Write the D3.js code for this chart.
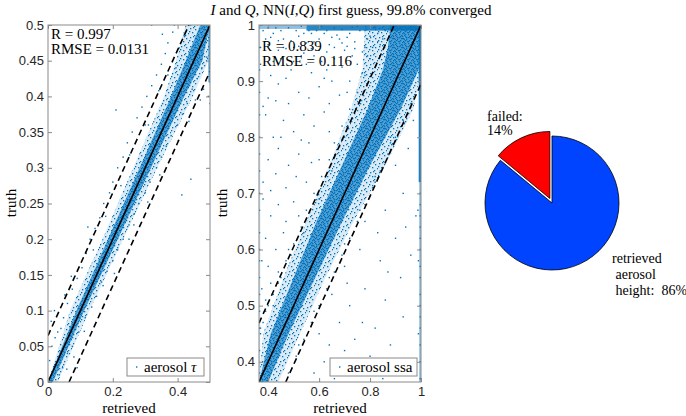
<!DOCTYPE html>
<html><head><meta charset="utf-8">
<script src="https://cdn.jsdelivr.net/npm/d3@7/dist/d3.min.js"></script>
<style>body{margin:0;background:#fff}svg{display:block}</style>
</head><body>
<script>
// ---------- DATA ----------
const tauTicksY = [0,0.05,0.1,0.15,0.2,0.25,0.3,0.35,0.4,0.45,0.5];
const tauTicksX = [0,0.2,0.4];
const ssaTicksY = [0.4,0.5,0.6,0.7,0.8,0.9,1];
const ssaTicksX = [0.4,0.6,0.8,1];
const tauDomain = [0,0.5];
const ssaDomain = [0.364,1];
const tauStats = ["R = 0.997","RMSE = 0.0131"];
const ssaStats = ["R = 0.839","RMSE = 0.116"];
const tauBand = 0.065, ssaBand = 0.105;   // dashed envelope offsets
// density envelopes of the point clouds: [truth, retrievedLow, retrievedHigh]
const tauCore = [[0,0,0.015],[0.1,0.088,0.112],[0.2,0.185,0.215],[0.3,0.283,0.318],[0.4,0.38,0.42],[0.45,0.425,0.476],[0.5,0.47,0.5]];
const tauMid  = [[0,0,0.03],[0.1,0.068,0.128],[0.2,0.168,0.232],[0.3,0.263,0.337],[0.4,0.358,0.447],[0.45,0.395,0.495],[0.5,0.425,0.5]];
const ssaCore = [[0.364,0.364,0.40],[0.45,0.41,0.48],[0.55,0.50,0.585],[0.65,0.59,0.69],[0.75,0.69,0.80],[0.85,0.79,0.92],[0.92,0.85,0.99],[0.96,0.87,1],[1,0.88,1]];
const ssaMid  = [[0.364,0.364,0.44],[0.45,0.38,0.525],[0.55,0.46,0.625],[0.65,0.55,0.735],[0.75,0.64,0.86],[0.85,0.725,0.97],[0.92,0.77,1],[1,0.78,1]];
// saturated edge strips: [r0, r1, t0, t1, density]
const tauEdges = [[0.495,0.5,0.42,0.5,0.7]];
const ssaEdges = [[0.991,1,0.72,1,0.9],[0.993,1,0.364,0.72,0.45],[0.55,1,0.99,1,0.85],[0.364,0.55,0.993,1,0.45],[0.364,0.369,0.364,1,0.18]];
// individual points [retrieved, truth]
const tauPts = [[0.035,0.01],[0.005,0.03],[0.045,0.02],[0.012,0.05],[0.06,0.04],[0.03,0.07],[0.075,0.05],[0.048,0.09],[0.095,0.07],[0.06,0.11],[0.115,0.09],[0.075,0.13],[0.135,0.105],[0.09,0.145],[0.15,0.12],[0.105,0.16],[0.165,0.14],[0.118,0.18],[0.182,0.155],[0.13,0.2],[0.2,0.17],[0.145,0.215],[0.215,0.185],[0.16,0.23],[0.232,0.2],[0.172,0.25],[0.25,0.22],[0.19,0.265],[0.265,0.235],[0.2,0.28],[0.28,0.25],[0.215,0.3],[0.3,0.265],[0.232,0.315],[0.315,0.28],[0.245,0.335],[0.335,0.3],[0.26,0.35],[0.35,0.315],[0.275,0.37],[0.365,0.33],[0.29,0.385],[0.38,0.345],[0.305,0.4],[0.4,0.36],[0.32,0.415],[0.415,0.375],[0.335,0.43],[0.43,0.39],[0.35,0.445],[0.445,0.41],[0.362,0.46],[0.46,0.425],[0.37,0.475],[0.475,0.44],[0.385,0.49],[0.49,0.455],[0.39,0.5],[0.5,0.46],[0.5,0.42],[0.5,0.39],[0.5,0.44],[0.21,0.381],[0.353,0.487],[0.413,0.262],[0.441,0.284],[0.123,0.217],[0.072,0.148],[0.32,0.5],[0.01,0.085],[0.02,0.1],[0.09,0.02],[0.25,0.2],[0.30,0.36],[0.47,0.395],[0.495,0.40],[0.058,0.018],[0.022,0.062],[0.112,0.071],[0.052,0.122],[0.205,0.152],[0.178,0.232],[0.308,0.252],[0.252,0.318],[0.402,0.338],[0.342,0.408],[0.455,0.395],[0.405,0.468],[0.04,0.075],[0.08,0.035],[0.14,0.185],[0.17,0.135],[0.225,0.275],[0.265,0.22],[0.31,0.36],[0.345,0.29],[0.395,0.44],[0.435,0.365],[0.37,0.43],[0.42,0.485],[0.44,0.5],[0.48,0.41]];
const ssaPts = [[0.38,0.99],[0.40,0.965],[0.42,0.985],[0.44,0.955],[0.46,0.975],[0.48,0.995],[0.50,0.96],[0.52,0.98],[0.54,0.95],[0.56,0.99],[0.58,0.97],[0.60,0.955],[0.62,0.985],[0.64,0.965],[0.66,0.995],[0.68,0.975],[0.70,0.955],[0.72,0.985],[0.74,0.97],[0.76,0.99],[0.78,0.96],[0.80,0.98],[0.82,0.995],[0.84,0.965],[0.39,0.975],[0.43,0.995],[0.47,0.958],[0.51,0.99],[0.55,0.968],[0.59,0.99],[0.63,0.952],[0.67,0.982],[0.71,0.962],[0.75,0.998],[0.79,0.975],[0.83,0.985],[0.45,0.99],[0.53,0.998],[0.61,0.998],[0.69,0.992],[0.77,0.952],[0.57,0.958],[0.65,0.978],[0.73,0.996],
[0.41,0.978],[0.49,0.972],[0.57,0.985],[0.66,0.96],[0.74,0.958],[0.81,0.96],[0.86,0.99],[0.37,0.96],[0.44,0.972],[0.52,0.962],[0.6,0.975],[0.69,0.968],[0.78,0.99],[0.85,0.975],[0.88,0.998],[0.63,0.99],[0.54,0.985],[0.46,0.96],[0.4,0.995],[0.71,0.978],
[0.37,0.93],[0.41,0.91],[0.45,0.94],[0.49,0.92],[0.53,0.945],[0.57,0.915],[0.61,0.935],[0.65,0.9],[0.69,0.925],[0.73,0.945],[0.40,0.87],[0.44,0.895],[0.48,0.86],[0.52,0.88],[0.56,0.87],[0.60,0.89],[0.64,0.86],[0.68,0.875],[0.72,0.9],[0.47,0.905],[0.55,0.93],[0.63,0.92],[0.71,0.88],[0.38,0.855],[0.43,0.865],[0.58,0.945],[0.66,0.94],[0.75,0.93],[0.77,0.915],[0.79,0.945],[0.62,0.905],[0.5,0.935],[0.42,0.935],
[0.39,0.84],[0.42,0.8],[0.46,0.83],[0.5,0.81],[0.54,0.84],[0.58,0.82],[0.62,0.845],[0.4,0.76],[0.44,0.78],[0.48,0.75],[0.52,0.77],[0.56,0.79],[0.6,0.76],[0.38,0.72],[0.43,0.735],[0.47,0.71],[0.51,0.73],[0.55,0.72],[0.45,0.8],[0.57,0.755],[0.41,0.705],[0.64,0.81],[0.53,0.795],
[0.38,0.69],[0.41,0.66],[0.44,0.68],[0.47,0.65],[0.5,0.685],[0.39,0.62],[0.43,0.6],[0.46,0.63],[0.4,0.57],[0.44,0.56],[0.48,0.6],[0.52,0.66],[0.375,0.58],
[0.375,0.53],[0.39,0.51],[0.41,0.54],[0.38,0.47],[0.37,0.45],[0.42,0.5],
[0.366,0.38],[0.366,0.42],[0.366,0.46],[0.366,0.49],[0.366,0.52],[0.366,0.55],[0.366,0.58],[0.366,0.6],[0.366,0.63],[0.366,0.67],[0.366,0.7],[0.366,0.74],[0.366,0.77],[0.366,0.8],[0.366,0.84],[0.366,0.88],[0.366,0.92],[0.366,0.96],
[0.58,0.38],[0.62,0.4],[0.66,0.37],[0.7,0.42],[0.75,0.39],[0.8,0.41],[0.85,0.37],[0.9,0.4],[0.95,0.38],[0.6,0.45],[0.68,0.47],[0.74,0.44],[0.82,0.46],[0.88,0.43],[0.93,0.48],[0.65,0.52],[0.72,0.5],[0.78,0.53],[0.86,0.51],[0.92,0.55],[0.7,0.57],[0.76,0.6],[0.84,0.58],[0.9,0.62],[0.96,0.59],[0.78,0.65],[0.86,0.67],[0.93,0.7],[0.82,0.72],[0.9,0.75],[0.95,0.78],[0.88,0.8],[0.97,0.83],[0.64,0.43],[0.77,0.47],[0.83,0.63],[0.71,0.54],[0.98,0.66],[0.94,0.64],[0.87,0.56],
[0.997,0.37],[0.997,0.4],[0.997,0.43],[0.997,0.46],[0.997,0.48],[0.997,0.5],[0.997,0.52],[0.997,0.55],[0.997,0.57],[0.997,0.6],[0.997,0.62],[0.997,0.64],[0.997,0.66],[0.997,0.68],[0.997,0.7],[0.99,0.45],[0.99,0.58],[0.988,0.67],
[0.37,0.46],[0.39,0.49],[0.42,0.52],[0.45,0.55],[0.47,0.58],[0.5,0.61],[0.53,0.64],[0.55,0.67],[0.58,0.7],[0.61,0.73],[0.64,0.76],[0.66,0.79],[0.69,0.82],[0.72,0.85],[0.75,0.88],[0.78,0.91],[0.8,0.94],[0.83,0.97],
[0.48,0.38],[0.51,0.41],[0.54,0.44],[0.57,0.47],[0.6,0.5],[0.63,0.53],[0.66,0.56],[0.69,0.59],[0.72,0.62],[0.75,0.65],[0.78,0.68],[0.81,0.71],[0.84,0.74],[0.87,0.77],[0.9,0.8],[0.93,0.83],[0.96,0.86],
[0.4,0.5],[0.44,0.54],[0.49,0.59],[0.54,0.63],[0.6,0.69],[0.65,0.74],[0.7,0.8],[0.76,0.86],[0.52,0.43],[0.58,0.49],[0.64,0.55],[0.7,0.61],[0.76,0.67],[0.82,0.73],[0.88,0.79]];
const pieLabels = ["failed","retrieved aerosol height"];
const pieValues = [14, 86];
const pieTextFailed = ["failed:","14%"];
const pieTextOk = ["retrieved"," aerosol"," height:  86%"];

// ---------- DRAW ----------
const W = 686, H = 416;
const blue = "#0072BD", axisCol = "#8a8a8a", txtCol = "#262626";
const serif = "'Liberation Serif','DejaVu Serif',serif";
const sans = "'Liberation Sans',Arial,sans-serif";
const svg = d3.select("body").append("svg").attr("width",W).attr("height",H);
const defs = svg.append("defs");
// stipple textures for dense point clouds
function stipple(id, size, bgOpacity, dots){
  const p = defs.append("pattern").attr("id",id).attr("patternUnits","userSpaceOnUse").attr("width",size).attr("height",size);
  p.append("rect").attr("width",size).attr("height",size).attr("fill",blue).attr("fill-opacity",bgOpacity);
  dots.forEach(d=>p.append("rect").attr("x",d[0]).attr("y",d[1]).attr("width",1.3).attr("height",1.3).attr("fill",blue));
}
stipple("core",9,0.62,[[0,0],[3,1],[6,0],[1,3],[5,2],[8,3],[2,5],[4,4],[7,5],[0,7],[3,7],[6,6],[5,8],[8,8],[1,1],[7,2]]);
stipple("mid",9,0.14,[[1,1],[6,2],[3,5],[8,6],[5,8],[0,4],[4,0]]);

svg.append("text").attr("x",351).attr("y",15).attr("text-anchor","middle")
  .attr("font-family",serif).attr("font-size",15).attr("fill","#000")
  .call(t=>{t.append("tspan").attr("font-style","italic").text("I");
            t.append("tspan").text(" and ");
            t.append("tspan").attr("font-style","italic").text("Q");
            t.append("tspan").text(", NN(");
            t.append("tspan").attr("font-style","italic").text("I");
            t.append("tspan").text(",");
            t.append("tspan").attr("font-style","italic").text("Q");
            t.append("tspan").text(") first guess, 99.8% converged");});

function panel(cfg){
  const x = d3.scaleLinear(cfg.domain,[cfg.left,cfg.right]);
  const y = d3.scaleLinear(cfg.domain,[cfg.bottom,cfg.top]);
  const g = svg.append("g");
  const cid = "clip"+cfg.id;
  defs.append("clipPath").attr("id",cid).append("rect")
    .attr("x",cfg.left).attr("y",cfg.top).attr("width",cfg.right-cfg.left).attr("height",cfg.bottom-cfg.top);
  const pg = g.append("g").attr("clip-path",`url(#${cid})`);
  const area = d3.area().y(d=>y(d[0])).x0(d=>x(d[1])).x1(d=>x(d[2]));
  pg.append("path").datum(cfg.mid).attr("d",area).attr("fill","url(#mid)");
  pg.append("path").datum(cfg.core).attr("d",area).attr("fill","url(#core)");
  pg.selectAll(".edge").data(cfg.edges).join("rect")
    .attr("x",d=>x(d[0])).attr("width",d=>x(d[1])-x(d[0]))
    .attr("y",d=>y(d[3])).attr("height",d=>y(d[2])-y(d[3]))
    .attr("fill",blue).attr("fill-opacity",d=>d[4]);
  pg.selectAll(".pt").data(cfg.pts).join("rect")
    .attr("x",d=>x(d[0])-0.7).attr("y",d=>y(d[1])-0.7).attr("width",1.4).attr("height",1.4).attr("fill",blue);
  const d0 = cfg.domain[0], d1 = cfg.domain[1], b = cfg.band;
  const line = d3.line().x(d=>x(d[0])).y(d=>y(d[1]));
  pg.append("path").attr("d",line([[d0,d0],[d1,d1]])).attr("stroke","#000").attr("stroke-width",1.6).attr("fill","none");
  pg.append("path").attr("d",line([[d0,d0+b],[d1-b,d1]])).attr("stroke","#000").attr("stroke-width",1.6).attr("stroke-dasharray","6,4").attr("fill","none");
  pg.append("path").attr("d",line([[d0+b,d0],[d1,d1-b]])).attr("stroke","#000").attr("stroke-width",1.6).attr("stroke-dasharray","6,4").attr("fill","none");
  // axes
  const fmt = d=>String(+d.toFixed(2));
  const styleAxis = a=>{a.select(".domain").remove();a.selectAll("line").attr("stroke",axisCol);
    a.selectAll("text").attr("fill",txtCol).attr("font-family",sans).attr("font-size",13);};
  g.append("g").attr("transform",`translate(${cfg.left},0)`).call(d3.axisLeft(y).tickValues(cfg.ticksY).tickFormat(fmt).tickSizeInner(-4).tickSizeOuter(0).tickPadding(4)).call(styleAxis);
  g.append("g").attr("transform",`translate(${cfg.right},0)`).call(d3.axisRight(y).tickValues(cfg.ticksY).tickFormat("").tickSizeInner(-4).tickSizeOuter(0)).call(styleAxis);
  g.append("g").attr("transform",`translate(0,${cfg.bottom})`).call(d3.axisBottom(x).tickValues(cfg.ticksX).tickFormat(fmt).tickSizeInner(-4).tickSizeOuter(0).tickPadding(5)).call(styleAxis);
  g.append("g").attr("transform",`translate(0,${cfg.top})`).call(d3.axisTop(x).tickValues(cfg.ticksX).tickFormat("").tickSizeInner(-4).tickSizeOuter(0)).call(styleAxis);
  g.append("rect").attr("x",cfg.left).attr("y",cfg.top).attr("width",cfg.right-cfg.left).attr("height",cfg.bottom-cfg.top)
    .attr("fill","none").attr("stroke",axisCol).attr("stroke-width",1);
  // stats
  cfg.stats.forEach((s,i)=>g.append("text").attr("x",cfg.left+3).attr("y",cfg.statY+i*15)
    .attr("font-family",serif).attr("font-size",15).attr("fill","#000").text(s));
  // labels
  g.append("text").attr("x",(cfg.left+cfg.right)/2).attr("y",413).attr("text-anchor","middle")
    .attr("font-family",serif).attr("font-size",15).text("retrieved");
  g.append("text").attr("transform",`translate(${cfg.ylabX},203) rotate(-90)`).attr("text-anchor","middle")
    .attr("font-family",serif).attr("font-size",15).text("truth");
  // legend
  const L = cfg.legend;
  g.append("rect").attr("x",L.x).attr("y",358).attr("width",L.w).attr("height",18).attr("fill","#fff").attr("stroke",axisCol);
  g.append("rect").attr("x",L.x+9).attr("y",366.3).attr("width",1.4).attr("height",1.4).attr("fill",blue);
  const lt = g.append("text").attr("x",L.x+17).attr("y",372).attr("font-family",serif).attr("font-size",15).attr("fill","#000");
  lt.append("tspan").text(L.text);
  if(L.ital) lt.append("tspan").attr("font-style","italic").text(L.ital);
}

panel({id:1,domain:tauDomain,left:48,right:210,top:25,bottom:382,ticksY:tauTicksY,ticksX:tauTicksX,
  core:tauCore,mid:tauMid,edges:tauEdges,pts:tauPts,band:tauBand,stats:tauStats,statY:39,ylabX:16,
  legend:{x:127,w:77,text:"aerosol ",ital:"τ"}});
panel({id:2,domain:ssaDomain,left:259,right:421,top:25,bottom:382,ticksY:ssaTicksY,ticksX:ssaTicksX,
  core:ssaCore,mid:ssaMid,edges:ssaEdges,pts:ssaPts,band:ssaBand,stats:ssaStats,statY:51,ylabX:227,
  legend:{x:330,w:87,text:"aerosol ssa",ital:null}});

// pie
const cx = 552, cy = 203, R = 67;
const frac0 = pieValues[0]/d3.sum(pieValues);
const pie = d3.pie().sort(null).startAngle(-2*Math.PI*frac0).endAngle(2*Math.PI*(1-frac0));
const arc = d3.arc().innerRadius(0).outerRadius(R);
const pieCols = ["#FF0000","#0044FF"];
const pg = svg.append("g").attr("transform",`translate(${cx},${cy})`);
pg.selectAll("path").data(pie(pieValues)).join("path")
  .attr("d",arc).attr("fill",(d,i)=>pieCols[i]).attr("stroke","#000").attr("stroke-width",0.8)
  .attr("transform",(d,i)=>{ if(i!==0) return null; const a=(d.startAngle+d.endAngle)/2; return `translate(${5*Math.sin(a)},${-5*Math.cos(a)})`;});
pieTextFailed.forEach((s,i)=>svg.append("text").attr("x",487).attr("y",121+i*14).attr("font-family",serif).attr("font-size",14).text(s));
pieTextOk.forEach((s,i)=>svg.append("text").attr("x",612).attr("y",263+i*16).attr("font-family",serif).attr("font-size",14).style("white-space","pre").text(s));
</script>
</body></html>
